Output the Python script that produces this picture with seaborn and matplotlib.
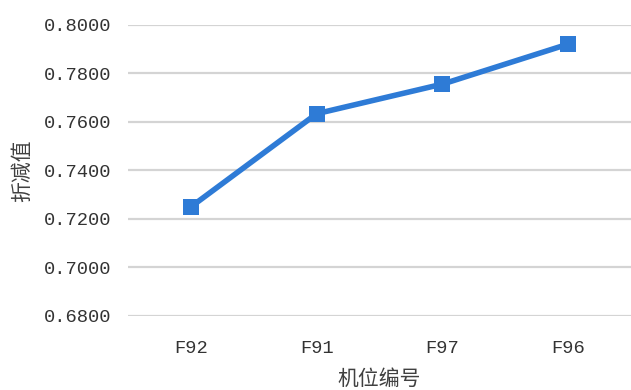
import pandas as pd
import seaborn as sns
import matplotlib.pyplot as plt

# data
positions = ['F92', 'F91', 'F97', 'F96']
values = [0.7250, 0.7634, 0.7756, 0.7921]
y_ticks = [0.68, 0.70, 0.72, 0.74, 0.76, 0.78, 0.80]

df = pd.DataFrame({'pos': positions, 'val': values})

sns.set_style('white')
plt.rcParams['font.family'] = ['Noto Sans CJK SC', 'DejaVu Sans']

fig = plt.figure(figsize=(6.31, 3.90), dpi=100)
ax = fig.add_axes([0.203, 0.19, 0.797, 0.746])

sns.lineplot(data=df, x='pos', y='val', sort=False, ax=ax,
             color='#2e7bd6', linewidth=4.0, marker='s', markersize=11.5,
             markeredgewidth=0, zorder=3)

ax.set_xlim(-0.5, 3.5)
ax.set_ylim(0.68, 0.80)
ax.set_yticks(y_ticks)
ax.set_yticklabels([f'{t:.4f}' for t in y_ticks])
ax.yaxis.grid(True, color='#d4d4d4', linewidth=1.6)
ax.xaxis.grid(False)
for s in ax.spines.values():
    s.set_visible(False)

ax.tick_params(axis='y', length=0, pad=12, labelsize=13.5, labelcolor='#333333')
ax.tick_params(axis='x', length=0, pad=17, labelsize=13.5, labelcolor='#333333')
for lbl in ax.get_xticklabels() + ax.get_yticklabels():
    lbl.set_fontfamily('Liberation Mono')

ax.set_xlabel('机位编号', fontsize=15, color='#404040', labelpad=8)
ax.set_ylabel('折减值', fontsize=15, color='#404040', labelpad=8)

fig.savefig('out.png', dpi=100)
